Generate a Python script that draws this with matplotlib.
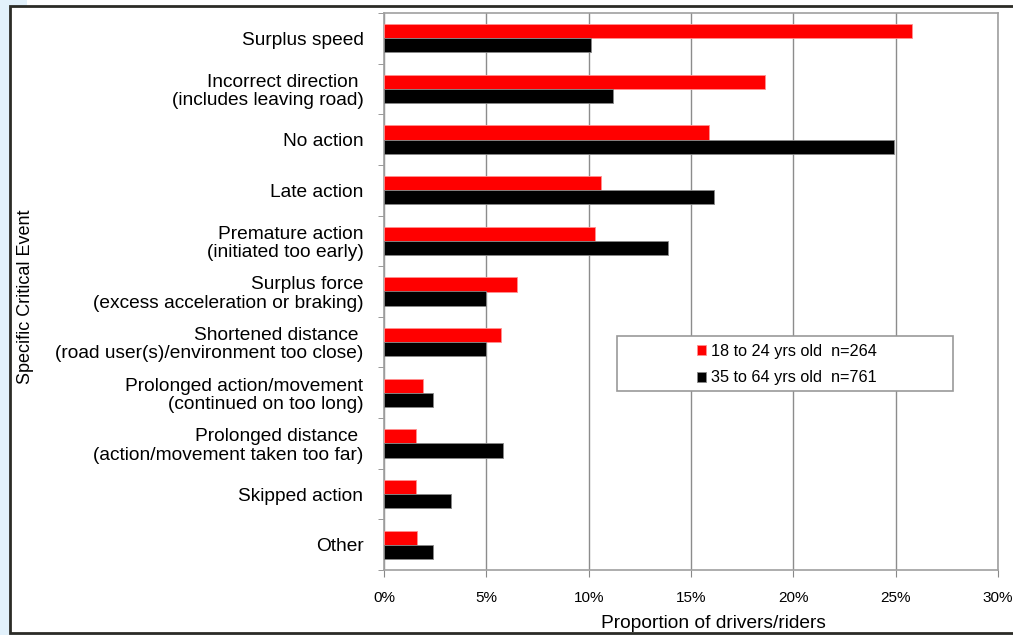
import numpy as np
import matplotlib
matplotlib.use('Agg')
import matplotlib.pyplot as plt
import matplotlib.ticker as ticker
from matplotlib.patches import Rectangle

plt.rcParams['font.family'] = ['Liberation Sans', 'DejaVu Sans']

# data (percent)
categories = ['Surplus speed',
              'Incorrect direction \n(includes leaving road)',
              'No action',
              'Late action',
              'Premature action\n(initiated too early)',
              'Surplus force\n(excess acceleration or braking)',
              'Shortened distance \n(road user(s)/environment too close)',
              'Prolonged action/movement\n(continued on too long)',
              'Prolonged distance \n(action/movement taken too far)',
              'Skipped action',
              'Other']
young = [25.8, 18.6, 15.9, 10.6, 10.3, 6.5, 5.7, 1.9, 1.55, 1.55, 1.6]
older = [10.1, 11.2, 24.9, 16.1, 13.9, 5.0, 5.0, 2.4, 5.8, 3.26, 2.4]
young_label = '18 to 24 yrs old  n=264'
older_label = '35 to 64 yrs old  n=761'

fig = plt.figure(figsize=(10.13, 6.35), dpi=100, facecolor='#e2f1fb')
# white chart frame behind the axes
fig.patches.append(Rectangle((27 / 1013, 629 / 635), 1, 0.1, transform=fig.transFigure,
                             facecolor='white', edgecolor='none', zorder=-2))
fig.patches.append(Rectangle((10 / 1013, 2 / 635), 1.0, 627 / 635, transform=fig.transFigure,
                             facecolor='white', edgecolor='#2b2b26', linewidth=2, zorder=-1))

ax = fig.add_axes([384 / 1013, 65 / 635, 614 / 1013, 557 / 635])
ax.set_zorder(1)

y = np.arange(len(categories))
h = 0.28
ax.barh(y - h / 2, young, height=h, color='#ff0000', edgecolor='#ff9090', linewidth=0.6,
        label=young_label, zorder=3)
ax.barh(y + h / 2, older, height=h, color='black', edgecolor='#888888', linewidth=0.6,
        label=older_label, zorder=3)

ax.set_ylim(len(categories) - 0.5, -0.5)
ax.set_xlim(0, 30)
ax.set_yticks(y)
ax.set_yticklabels(categories, fontsize=13.8, linespacing=1.1)
ax.set_yticks(np.arange(len(categories) + 1) - 0.5, minor=True)
ax.tick_params(axis='y', which='major', length=0, pad=14.8)
ax.tick_params(axis='y', which='minor', length=4, color='#888888', direction='out')

ax.xaxis.set_major_locator(ticker.MultipleLocator(5))
ax.xaxis.set_major_formatter(ticker.FuncFormatter(lambda v, pos: '{:.0f}%'.format(v)))
ax.tick_params(axis='x', length=5, color='#888888', labelsize=11, pad=10)
ax.grid(axis='x', color='#8c8c8c', linewidth=1, zorder=0)
ax.set_axisbelow(True)

for s in ax.spines.values():
    s.set_color('#a0a0a0')
    s.set_linewidth(1.2)

ax.set_xlabel('Proportion of drivers/riders', fontsize=13.8)
ax.xaxis.set_label_coords((713 - 384) / 614, -0.08)
fig.text(25 / 1013, 0.532, 'Specific Critical Event', rotation=90, fontsize=13,
         ha='center', va='center')

# legend: wide box with the entries centred in it
x0, x1 = (617 - 384) / 614, (953 - 384) / 614
y0, y1 = 1 - (391 - 13) / 557, 1 - (336 - 13) / 557
ax.add_patch(Rectangle((x0, y0), x1 - x0, y1 - y0, transform=ax.transAxes,
                       facecolor='white', edgecolor='#999999', linewidth=1.2, zorder=4))
leg = ax.legend(loc='center', bbox_to_anchor=((x0 + x1) / 2 + 0.003, (y0 + y1) / 2 - 0.002),
                fontsize=11.7, frameon=False, handlelength=0.55, handleheight=0.6,
                handletextpad=0.3, borderpad=0, labelspacing=0.72, borderaxespad=0)
leg.set_zorder(5)

plt.savefig('out.png', dpi=100, facecolor=fig.get_facecolor())
